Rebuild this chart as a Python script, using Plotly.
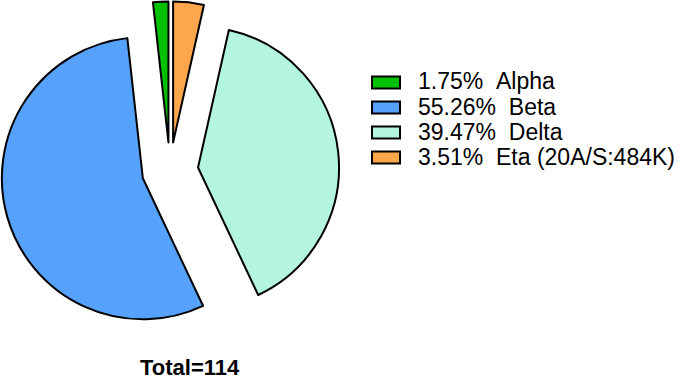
import plotly.graph_objects as go

categories = ["Alpha", "Beta", "Delta", "Eta (20A/S:484K)"]
counts = [2, 63, 45, 4]
colors = ["#00C000", "#55A1FB", "#B3F5E0", "#FDA64C"]

W, H = 680, 379
total = sum(counts)
pct_labels = [f"{c / total * 100:.2f}%\u00a0\u00a0{n}" for c, n in zip(counts, categories)]

fig = go.Figure()
fig.add_trace(go.Pie(
    labels=categories,
    values=counts,
    sort=False,
    direction="counterclockwise",
    # plotly starts a counterclockwise pie with the first slice ending at 12 o'clock;
    # rotate so that the first slice starts at 12 o'clock instead
    rotation=-360 * counts[0] / total,
    pull=[0.2] * len(counts),
    marker=dict(colors=colors, line=dict(color="black", width=2)),
    textinfo="none",
    hoverinfo="label+value+percent",
    showlegend=False,
    domain=dict(x=[0.8 / W, 339.2 / W], y=[1 - 339.8 / H, 1 - 1.4 / H]),
))

# manual legend
box_x0, box_x1 = 372, 400
row0, row_gap = 82.5, 25
shapes = []
annotations = []
for i, (lab, col) in enumerate(zip(pct_labels, colors)):
    yc = row0 + i * row_gap
    shapes.append(dict(type="rect", xref="paper", yref="paper",
                       x0=box_x0 / W, x1=box_x1 / W,
                       y0=1 - (yc - 6) / H, y1=1 - (yc + 6) / H,
                       fillcolor=col, line=dict(color="black", width=2)))
    annotations.append(dict(xref="paper", yref="paper", x=416 / W, y=1 - (yc - 1) / H,
                            xanchor="left", yanchor="middle", showarrow=False,
                            text=lab, font=dict(family="Liberation Sans", size=23, color="black")))

annotations.append(dict(xref="paper", yref="paper", x=190 / W, y=1 - 367.5 / H,
                        xanchor="center", yanchor="middle", showarrow=False,
                        text=f"<b>Total={total}</b>",
                        font=dict(family="Liberation Sans", size=22, color="black")))

fig.update_layout(
    width=W, height=H,
    margin=dict(l=0, r=0, t=0, b=0, autoexpand=False),
    paper_bgcolor="white", plot_bgcolor="white",
    shapes=shapes, annotations=annotations,
    font=dict(family="Liberation Sans"),
)

fig.write_html("out.html", config={"displayModeBar": False},
               post_script="document.body.style.margin='0';document.body.style.padding='0';")
